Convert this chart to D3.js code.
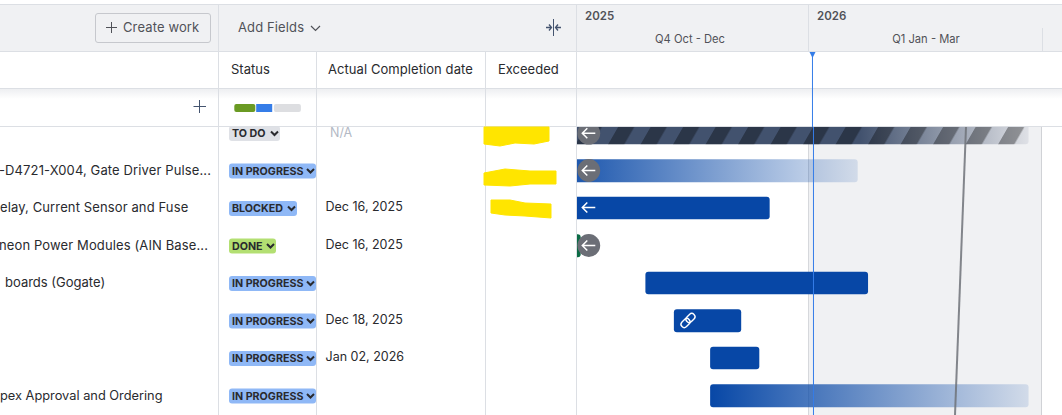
<!DOCTYPE html>
<html><head><meta charset="utf-8">
<script src="https://cdn.jsdelivr.net/npm/d3@7"></script>
<style>html,body{margin:0;padding:0;background:#fff;overflow:hidden}svg{display:block}text{font-family:Inter,"Noto Sans",sans-serif}</style>
</head><body><svg id="c" width="1062" height="415"></svg>
<script>
const summaries=["","-D4721-X004, Gate Driver Pulse...","elay, Current Sensor and Fuse","neon Power Modules (AIN Base...","boards (Gogate)","","","pex Approval and Ordering"];
const statuses=["TO DO","IN PROGRESS","BLOCKED","DONE","IN PROGRESS","IN PROGRESS","IN PROGRESS","IN PROGRESS"];
const completion=["N/A","","Dec 16, 2025","Dec 16, 2025","","Dec 18, 2025","Jan 02, 2026",""];
const starts=["2025-09-01","2025-09-20","2025-09-15","2025-09-01","2025-10-30","2025-11-10","2025-11-24","2025-11-24"];
const ends=["2026-03-27","2026-01-20","2025-12-17","2025-10-05","2026-01-24","2025-12-06","2025-12-13","2026-03-27"];
const fades=[true,true,false,false,false,false,false,true];
const years=[["2025","2025-10-01"],["2026","2026-01-01"]];
const quarters=[["Q4 Oct - Dec","2025-10-01","2026-01-01"],["Q1 Jan - Mar","2026-01-01","2026-04-01"]];
const today="2026-01-03";
const progress=[21,16,27];
const statusColors={"TO DO":"#dfe1e6","IN PROGRESS":"#8fb8f6","BLOCKED":"#8fb8f6","DONE":"#b3df72"};
const statusWidths={"TO DO":51,"IN PROGRESS":87,"BLOCKED":68,"DONE":47};

const P=d3.timeParse("%Y-%m-%d");
const svg=d3.select("#c");
const x=d3.scaleTime().domain([P("2026-01-01"),P("2026-04-01")]).range([808.5,1041.5]);
const y=d3.scalePoint().domain(d3.range(8)).range([133,395.5]);
const LINE="#dcdfe4",HEAD="#f0f1f3",BLUE="#0747a6",TXT="#292a2e",SUB="#505258";
const defs=svg.append("defs");
defs.append("clipPath").attr("id","tl").append("rect").attr("x",577).attr("y",127).attr("width",485).attr("height",288);
defs.append("clipPath").attr("id","left").append("rect").attr("x",0).attr("y",127).attr("width",1062).attr("height",288);
const sh=defs.append("linearGradient").attr("id","sh").attr("x1",0).attr("x2",0).attr("y1",0).attr("y2",1);
sh.append("stop").attr("offset",0).attr("stop-color","#091e42").attr("stop-opacity",.07);
sh.append("stop").attr("offset",1).attr("stop-color","#091e42").attr("stop-opacity",0);
const pat=defs.append("pattern").attr("id","stripes").attr("patternUnits","userSpaceOnUse").attr("width",32.5).attr("height",22).attr("patternTransform","translate(608.3 144) skewX(-30)");
pat.append("rect").attr("width",16.2).attr("height",22).attr("fill","#000").attr("fill-opacity",.34);
const base=defs.append("linearGradient").attr("id","base0").attr("gradientUnits","userSpaceOnUse").attr("x1",x(P("2026-01-21"))).attr("x2",x(P("2026-03-27"))).attr("y1",0).attr("y2",0);
base.append("stop").attr("offset",0).attr("stop-color","#42526e");
base.append("stop").attr("offset",1).attr("stop-color","#dfe1e6");
fades.forEach((f,i)=>{ if(!f||i===0) return;
  const g=defs.append("linearGradient").attr("id","fade"+i);
  g.append("stop").attr("offset",0).attr("stop-color",BLUE).attr("stop-opacity",1);
  g.append("stop").attr("offset",1).attr("stop-color",BLUE).attr("stop-opacity",.13);
});

// header
svg.append("rect").attr("x",0).attr("y",5).attr("width",1062).attr("height",46).attr("fill",HEAD);
const hl=(x1,y1,x2,y2,c=LINE)=>svg.append("line").attr("x1",x1).attr("y1",y1).attr("x2",x2).attr("y2",y2).attr("stroke",c).attr("stroke-width",1);
const tx=(s,xx,yy,size,fill,weight,anchor)=>svg.append("text").text(s).attr("x",xx).attr("y",yy).attr("font-size",size).attr("fill",fill).attr("font-weight",weight||400).attr("text-anchor",anchor||"start");

// timeline shaded quarter
const q1=quarters[1];
svg.append("rect").attr("x",x(P(q1[1]))).attr("y",127).attr("width",x(P(q1[2]))-x(P(q1[1]))).attr("height",288).attr("fill",HEAD);

hl(0,4.5,1062,4.5);hl(0,51.5,1062,51.5);hl(0,88.5,1062,88.5);hl(0,126.5,1062,126.5);
svg.append("rect").attr("x",0).attr("y",89).attr("width",1062).attr("height",10).attr("fill","url(#sh)");
hl(218.5,5,218.5,415);hl(316.5,52,316.5,415);hl(485.5,52,485.5,415);hl(576.5,5,576.5,415);
years.forEach((d,i)=>{const p=x(P(d[1])); if(i) hl(p,5,p,51); tx(d[0],i?p+8.5:585,20,11.5,SUB,600);});
hl(x(P(q1[1])),127,x(P(q1[1])),415,"#d6d8dc");hl(x(P(q1[2])),127,x(P(q1[2])),415,"#d0d2d6");hl(x(P(q1[2]))+1,28,x(P(q1[2]))+1,51);
quarters.forEach((d,i)=>tx(d[0],i?926:690,43,11.2,SUB,400,"middle"));

// create work
svg.append("rect").attr("x",95.5).attr("y",13.5).attr("width",115).attr("height",29).attr("rx",2.5).attr("fill",HEAD).attr("stroke","#c6c8cd");
hl(106,27.5,117,27.5,SUB);hl(111.5,22,111.5,33,SUB);
tx("Create work",123,32,13,SUB,400).attr("letter-spacing",.12);
tx("Add Fields",238,32,13,SUB,400).attr("letter-spacing",.12);
svg.append("path").attr("d","M311 26l4.5 4.5 4.5-4.5").attr("fill","none").attr("stroke",SUB).attr("stroke-width",1.2);
hl(553.5,19,553.5,36,"#44546f");
svg.append("path").attr("d","M546 27.5h5M549 24.5l2.5 3-2.5 3M561 27.5h-5M558 24.5l-2.5 3 2.5 3").attr("fill","none").attr("stroke","#44546f").attr("stroke-width",1.3);
tx("Status",231,74,13,TXT);
tx("Actual Completion date",328,74,13,TXT).attr("letter-spacing",.07);
tx("Exceeded",498,74,13,TXT);
// add + rollup
hl(193.5,106.5,206,106.5,"#44546f");hl(199.5,100,199.5,113,"#44546f");
let px=234.3;progress.forEach((w,i)=>{
  svg.append("rect").attr("x",px).attr("y",104).attr("width",w).attr("height",8).attr("rx",i===1?0:2).attr("fill",["#6a9a23","#357de8","#dddee1"][i]);
  px+=w+(i===0?.9:1.7);
});

// rows
const left=svg.append("g").attr("clip-path","url(#left)");
summaries.forEach((s,i)=>{
  const ox={1:-1,2:0,3:-1,4:5,7:0}[i];
  if(s) left.append("text").text(s).attr("x",ox).attr("y",y(i)+4).attr("font-size",i===7?12.8:13).attr("letter-spacing",i===4||i===7?0:.12).attr("fill",TXT);
  const st=statuses[i],w=statusWidths[st],by=y(i)-7;
  left.append("rect").attr("x",229).attr("y",by).attr("width",w).attr("height",15).attr("rx",3).attr("fill",statusColors[st]);
  left.append("text").text(st).attr("x",232).attr("y",by+11).attr("font-size",10.7).attr("font-weight",700).attr("fill","#292a2e");
  left.append("path").attr("d",`M${229+w-9} ${by+5.5}l3.5 3.5 3.5-3.5`).attr("fill","none").attr("stroke","#292a2e").attr("stroke-width",2);
  if(completion[i]) left.append("text").text(completion[i]).attr("x",i?325.5:330).attr("y",y(i)+(i?3:4)).attr("font-size",12.5).attr("fill",i?TXT:"#b3b9c4");
});

// scribbles
const scribble=[
 [[484,127],[549,127],[549,141],[534,144],[515,143],[500,146],[484,144]],
 [[484,173],[505,169],[530,171],[556,171],[556,184],[530,184],[510,186],[484,185]],
 [[491,200],[510,200],[525,203],[551,204],[551,218],[525,216],[505,215],[491,213]]];
svg.selectAll(".sc").data(scribble).join("path").attr("d",d3.line().curve(d3.curveLinearClosed)).attr("fill","#ffe500").attr("stroke","#ffe500").attr("stroke-linejoin","round");

// bars
const tl=svg.append("g").attr("clip-path","url(#tl)");
starts.forEach((s,i)=>{
  const x0=x(P(s)),x1=x(P(ends[i])),h=i%2?23:22.5,yy=y(i)-11.25;
  const r=tl.append("rect").attr("x",x0).attr("y",yy).attr("width",x1-x0).attr("height",h).attr("rx",3);
  if(i===0){ r.attr("fill","url(#base0)");
    tl.append("rect").attr("x",x0).attr("y",yy).attr("width",x1-x0-4).attr("height",h).attr("fill","url(#stripes)"); }
  else if(i===3) r.attr("fill","#0b6b45");
  else if(fades[i]) r.attr("fill","url(#fade"+i+")");
  else r.attr("fill",BLUE);
});
tl.append("line").attr("x1",966).attr("y1",127).attr("x2",955).attr("y2",415).attr("stroke","#6f7278").attr("stroke-opacity",.85).attr("stroke-width",2);
// today
const tX=x(P(today));
svg.append("line").attr("x1",tX-1.2).attr("x2",tX-1.2).attr("y1",52).attr("y2",127).attr("stroke","#357de8").attr("stroke-width",1);
svg.append("line").attr("x1",tX-.2).attr("x2",tX-.2).attr("y1",127).attr("y2",415).attr("stroke","#357de8").attr("stroke-width",1);
svg.append("path").attr("d",`M${tX-4.2} 52h6l-3 6z`).attr("fill","#357de8");
// arrows
const arrow=(cx,cy,circle)=>{
  if(circle) tl.append("circle").attr("cx",cx).attr("cy",cy).attr("r",11.4).attr("fill","#6b6e76");
  tl.append("path").attr("d",`M${cx-6.5} ${cy}h13M${cx-1.5} ${cy-5}l-5 5 5 5`).attr("fill","none").attr("stroke","#fff").attr("stroke-width",1.5);
};
[0,1,3].forEach(i=>arrow(588.8,y(i)+(i===0?.2:0),true));
arrow(588.8,207.5,false);
// link icon
const link=tl.append("g").attr("transform","translate(688 320.5) rotate(-45)").attr("fill","none").attr("stroke","#fff").attr("stroke-width",1.4);
link.append("rect").attr("x",-8.5).attr("y",-3.2).attr("width",10).attr("height",6.4).attr("rx",3.2);
link.append("rect").attr("x",-1.5).attr("y",-3.2).attr("width",10).attr("height",6.4).attr("rx",3.2);
</script></body></html>
